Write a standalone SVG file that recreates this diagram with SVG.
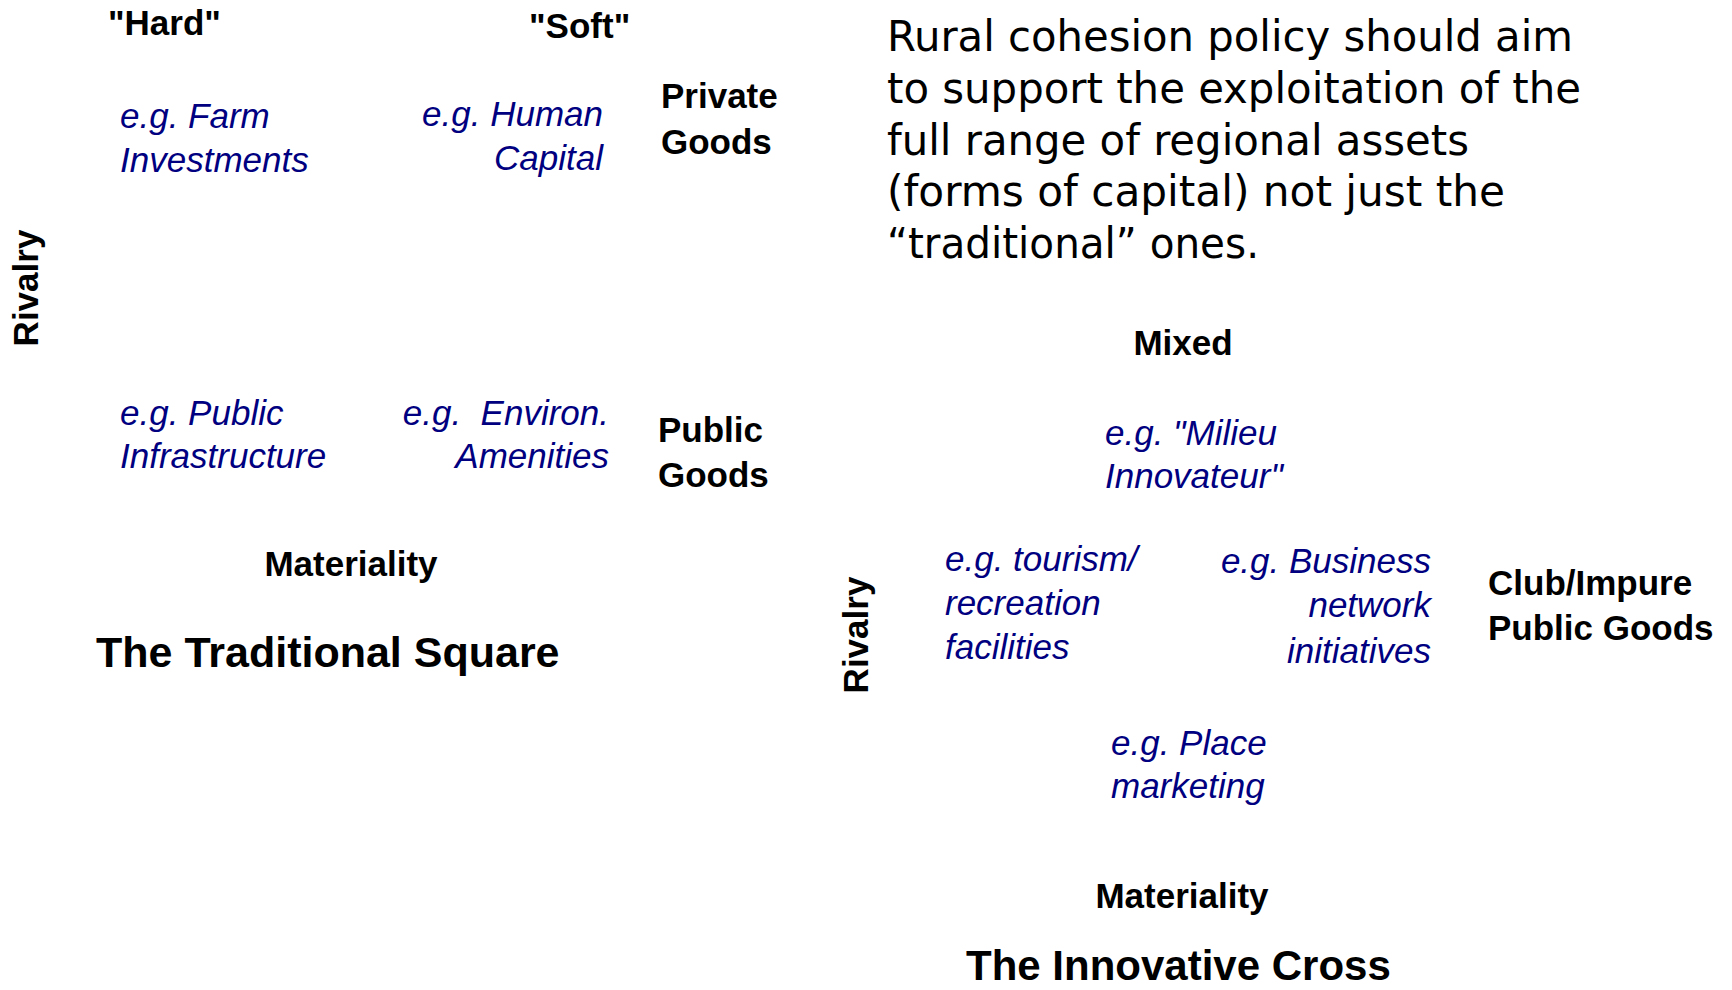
<svg xmlns="http://www.w3.org/2000/svg" width="1732" height="990" viewBox="0 0 1732 990">
  <style>
    .lbl { font-family: "Liberation Sans", Arial, sans-serif; font-weight: bold; font-size: 35px; fill: #000; }
    .ex { font-family: "Liberation Sans", Arial, sans-serif; font-style: italic; font-size: 35px; fill: #000080; }
    .title { font-family: "Liberation Sans", Arial, sans-serif; font-weight: bold; font-size: 43px; fill: #000; }
    .para { font-family: "DejaVu Sans Condensed", "DejaVu Sans", sans-serif; font-stretch: condensed; font-size: 42px; fill: #000; }
    .end { text-anchor: end; }
    .mid { text-anchor: middle; }
  </style>
  <rect width="1732" height="990" fill="#fff"/>

  <!-- Left panel: the traditional square -->
  <g id="square">
    <g id="sq-hard"><text class="lbl" x="108" y="35">"Hard"</text></g>
    <g id="sq-soft"><text class="lbl" x="529" y="38">"Soft"</text></g>
    <g id="sq-farm">
      <text class="ex" x="120" y="128">e.g. Farm</text>
      <text class="ex" x="120" y="172">Investments</text>
    </g>
    <g id="sq-human">
      <text class="ex end" x="603" y="126">e.g. Human</text>
      <text class="ex end" x="603" y="170">Capital</text>
    </g>
    <g id="sq-private">
      <text class="lbl" x="661" y="108">Private</text>
      <text class="lbl" x="661" y="154">Goods</text>
    </g>
    <g id="sq-rivalry"><text class="lbl mid" transform="translate(38,288) rotate(-90)">Rivalry</text></g>
    <g id="sq-infra">
      <text class="ex" x="120" y="425">e.g. Public</text>
      <text class="ex" x="120" y="468">Infrastructure</text>
    </g>
    <g id="sq-environ">
      <text class="ex end" x="609" y="425" style="white-space:pre">e.g.  Environ.</text>
      <text class="ex end" x="609" y="468">Amenities</text>
    </g>
    <g id="sq-public">
      <text class="lbl" x="658" y="442">Public</text>
      <text class="lbl" x="658" y="487">Goods</text>
    </g>
    <g id="sq-materiality"><text class="lbl mid" x="351" y="576">Materiality</text></g>
    <g id="sq-title"><text class="title" x="96" y="667">The Traditional Square</text></g>
  </g>

  <!-- Policy statement -->
  <g id="statement">
    <text class="para" x="887" y="51" textLength="686" lengthAdjust="spacingAndGlyphs">Rural cohesion policy should aim</text>
    <text class="para" x="887" y="103" textLength="694" lengthAdjust="spacingAndGlyphs">to support the exploitation of the</text>
    <text class="para" x="887" y="155" textLength="582" lengthAdjust="spacingAndGlyphs">full range of regional assets</text>
    <text class="para" x="887" y="206" textLength="618" lengthAdjust="spacingAndGlyphs">(forms of capital) not just the</text>
    <text class="para" x="887" y="258" textLength="372" lengthAdjust="spacingAndGlyphs">“traditional” ones.</text>
  </g>

  <!-- Right panel: the innovative cross -->
  <g id="cross">
    <g id="cr-mixed"><text class="lbl mid" x="1183" y="355">Mixed</text></g>
    <g id="cr-milieu">
      <text class="ex" x="1105" y="445">e.g. "Milieu</text>
      <text class="ex" x="1105" y="488">Innovateur"</text>
    </g>
    <g id="cr-rivalry"><text class="lbl mid" transform="translate(868,635) rotate(-90)">Rivalry</text></g>
    <g id="cr-tourism">
      <text class="ex" x="945" y="571">e.g. tourism/</text>
      <text class="ex" x="945" y="615">recreation</text>
      <text class="ex" x="945" y="659">facilities</text>
    </g>
    <g id="cr-business">
      <text class="ex end" x="1431" y="573">e.g. Business</text>
      <text class="ex end" x="1431" y="617">network</text>
      <text class="ex end" x="1431" y="663">initiatives</text>
    </g>
    <g id="cr-club">
      <text class="lbl" x="1488" y="595">Club/Impure</text>
      <text class="lbl" x="1488" y="640">Public Goods</text>
    </g>
    <g id="cr-place">
      <text class="ex" x="1111" y="755">e.g. Place</text>
      <text class="ex" x="1111" y="798">marketing</text>
    </g>
    <g id="cr-materiality"><text class="lbl mid" x="1182" y="908">Materiality</text></g>
    <g id="cr-title"><text class="title" x="966" y="980" style="font-size:42px">The Innovative Cross</text></g>
  </g>

  <!-- No connectors are drawn in this figure -->
  <g id="connectors"/>
</svg>
